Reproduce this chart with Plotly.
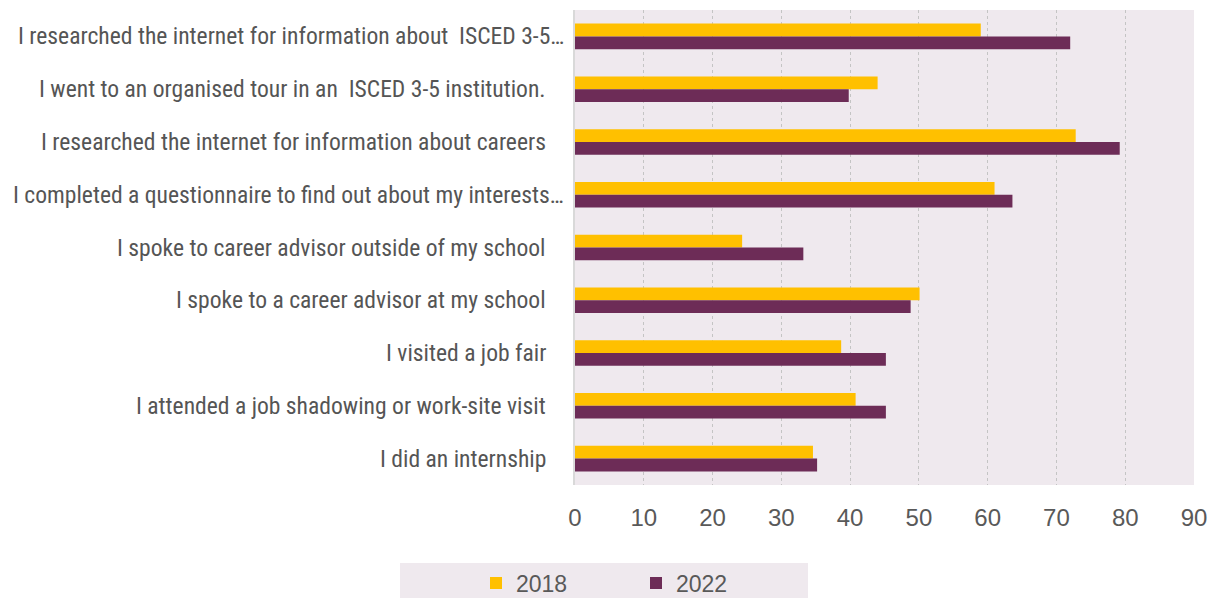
import plotly.graph_objects as go

# Career-guidance activities reported by students, share (%) by survey year
activities = [
    "I researched the internet for information about  ISCED 3-5…",
    "I went to an organised tour in an  ISCED 3-5 institution.",
    "I researched the internet for information about careers",
    "I completed a questionnaire to find out about my interests…",
    "I spoke to career advisor outside of my school",
    "I spoke to a career advisor at my school",
    "I visited a job fair",
    "I attended a job shadowing or work-site visit",
    "I did an internship",
]
values_2018 = [59.0, 44.0, 72.8, 61.0, 24.3, 50.1, 38.7, 40.8, 34.6]
values_2022 = [72.0, 39.8, 79.2, 63.6, 33.2, 48.8, 45.2, 45.2, 35.2]
x_ticks = [0, 10, 20, 30, 40, 50, 60, 70, 80, 90]

YELLOW = "#FFC000"
PURPLE = "#6D2C57"
PANEL = "#EFE9EE"
LABEL_FONT = "Roboto Condensed, DejaVu Sans Condensed, sans-serif"
NUM_FONT = "Liberation Sans, Arial, sans-serif"

W, H = 1208, 598
L, R, T, B = 575, 14, 10, 113
plot_w = W - L - R
plot_h = H - T - B


def px_to_paper_x(px):
    return (px - L) / plot_w


def px_to_paper_y(py):
    return (H - B - py) / plot_h


fig = go.Figure()
fig.add_trace(go.Bar(y=activities, x=values_2018, orientation="h", name="2018",
                     marker=dict(color=YELLOW, line=dict(width=0))))
fig.add_trace(go.Bar(y=activities, x=values_2022, orientation="h", name="2022",
                     marker=dict(color=PURPLE, line=dict(width=0))))

# Category labels, right-aligned left of the panel
annotations = []
for label in activities:
    shift = -9 if label.endswith("…") else -27
    annotations.append(dict(
        x=0, xref="paper", y=label, yref="y", text=label, showarrow=False,
        xanchor="right", yanchor="middle", xshift=shift,
        font=dict(family=LABEL_FONT, size=23.6, color="#555555"),
    ))

# Legend panel
shapes = [dict(type="rect", xref="paper", yref="paper",
               x0=px_to_paper_x(400), x1=px_to_paper_x(808),
               y0=px_to_paper_y(563), y1=px_to_paper_y(600),
               fillcolor=PANEL, line=dict(width=0), layer="below")]

fig.update_layout(
    width=W, height=H,
    margin=dict(l=L, r=R, t=T, b=B, pad=0),
    paper_bgcolor="white",
    plot_bgcolor=PANEL,
    barmode="group",
    bargap=0.516,
    bargroupgap=0,
    font=dict(family=NUM_FONT, size=23, color="#595959"),
    xaxis=dict(
        range=[0, 90], tickvals=x_ticks, ticks="", showline=False,
        showgrid=True, gridcolor="#C4C4C4", griddash="dot", gridwidth=1,
        zeroline=False, ticklabelstandoff=16, automargin=False,
        tickfont=dict(family=NUM_FONT, size=24, color="#595959"),
    ),
    yaxis=dict(
        autorange="reversed", showticklabels=False, ticks="",
        showgrid=False, zeroline=False, automargin=False,
        showline=True, linecolor="#D9D9D9", linewidth=2,
    ),
    legend=dict(
        orientation="h", xref="container", yref="container",
        x=476 / W, xanchor="left", y=1 - 583 / H, yanchor="middle",
        bgcolor="rgba(0,0,0,0)", entrywidth=115, entrywidthmode="pixels",
        font=dict(family=NUM_FONT, size=23, color="#595959"),
        itemclick=False,
    ),
    annotations=annotations,
    shapes=shapes,
)

fig.write_html("out.html")
